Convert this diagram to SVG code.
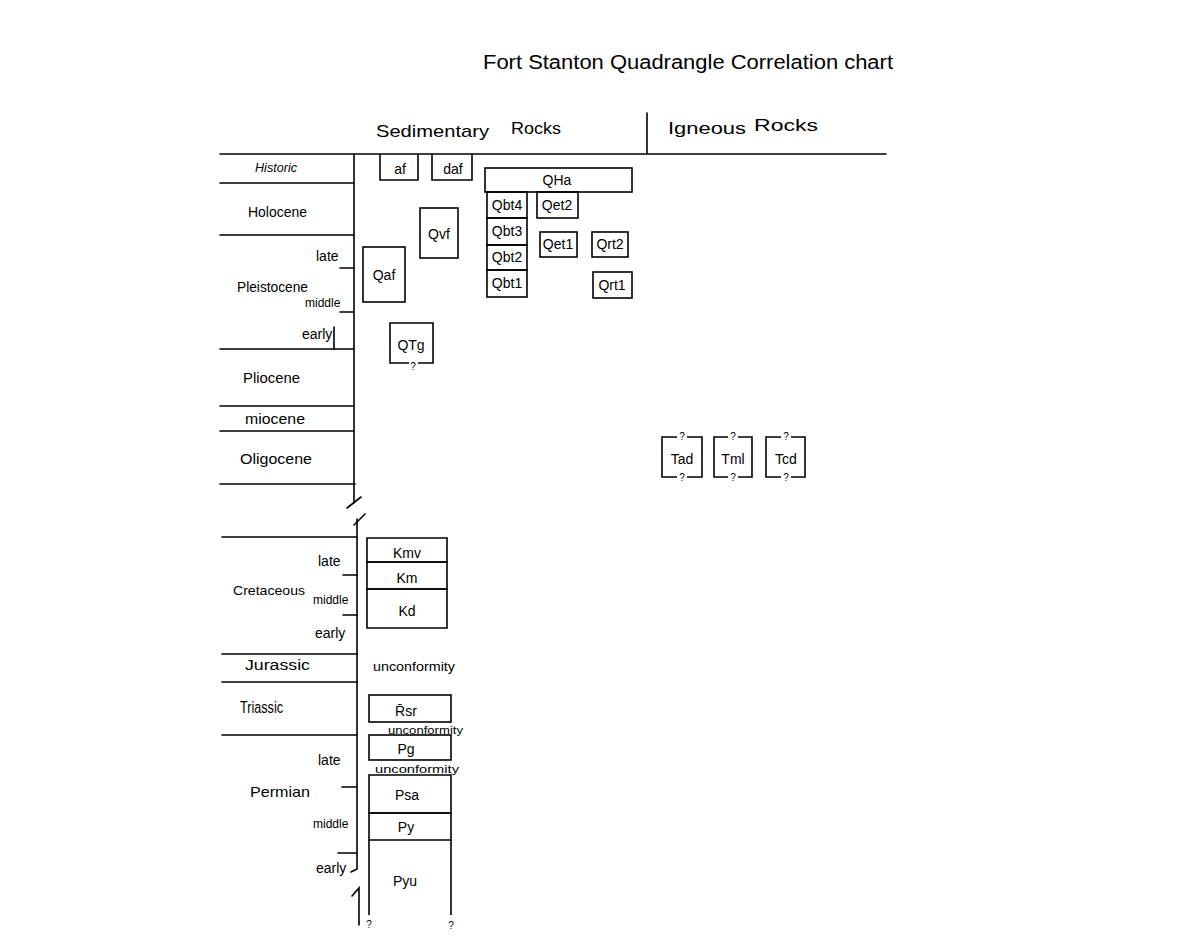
<svg xmlns="http://www.w3.org/2000/svg" width="1177" height="942" viewBox="0 0 1177 942">
<style>
  .ln { stroke: #000; stroke-width: 1.6; fill: none; stroke-linecap: round; }
  .bx { stroke: #000; stroke-width: 1.6; fill: none; }
  text { font-family: "Liberation Sans", "DejaVu Sans", sans-serif; fill: #000; }
  .t { font-size: 14px; }
  .s { font-size: 12px; }
  .b { font-size: 14px; text-anchor: middle; }
  .q { font-size: 10px; text-anchor: middle; }
</style>
<rect width="1177" height="942" fill="#fff"/>

<g id="title">
  <text x="483" y="69" font-size="20" textLength="410" lengthAdjust="spacingAndGlyphs">Fort Stanton Quadrangle Correlation chart</text>
</g>
<g id="headers">
  <text x="376" y="137" font-size="17" textLength="113" lengthAdjust="spacingAndGlyphs">Sedimentary</text>
  <text x="511" y="134" font-size="17" textLength="50" lengthAdjust="spacingAndGlyphs">Rocks</text>
  <text x="668" y="134" font-size="17" textLength="78" lengthAdjust="spacingAndGlyphs">Igneous</text>
  <text x="754" y="131" font-size="17" textLength="64" lengthAdjust="spacingAndGlyphs">Rocks</text>
</g>

<g id="connectors">
  <line class="ln" x1="647" y1="113" x2="647" y2="153"/>
  <line class="ln" x1="220" y1="154" x2="886" y2="154"/>
  <line class="ln" x1="220" y1="183" x2="354" y2="183"/>
  <line class="ln" x1="220" y1="235" x2="354" y2="235"/>
  <line class="ln" x1="220" y1="349" x2="354" y2="349"/>
  <line class="ln" x1="220" y1="406" x2="354" y2="406"/>
  <line class="ln" x1="220" y1="431" x2="354" y2="431"/>
  <line class="ln" x1="220" y1="484" x2="355" y2="484"/>
  <line class="ln" x1="222" y1="537" x2="357" y2="537"/>
  <line class="ln" x1="222" y1="654" x2="357" y2="654"/>
  <line class="ln" x1="222" y1="682" x2="357" y2="682"/>
  <line class="ln" x1="222" y1="735" x2="357" y2="735"/>
  <path class="ln" d="M354,154 V503"/>
  <path class="ln" d="M347,508 L361,497"/>
  <path class="ln" d="M354,525 L365,514"/>
  <path class="ln" d="M357,519 V869 L351,872"/>
  <path class="ln" d="M352,896 L359,888 V925"/>
  <line class="ln" x1="340" y1="268" x2="354" y2="268"/>
  <line class="ln" x1="340" y1="312" x2="354" y2="312"/>
  <line class="ln" x1="334" y1="327" x2="334" y2="349"/>
  <line class="ln" x1="343" y1="575" x2="357" y2="575"/>
  <line class="ln" x1="343" y1="615" x2="357" y2="615"/>
  <line class="ln" x1="342" y1="787" x2="357" y2="787"/>
  <line class="ln" x1="338" y1="853" x2="357" y2="853"/>
</g>

<g id="timescale-labels">
  <text x="255" y="172" font-size="12" font-style="italic" textLength="42" lengthAdjust="spacingAndGlyphs">Historic</text>
  <text x="248" y="217" font-size="15" textLength="59" lengthAdjust="spacingAndGlyphs">Holocene</text>
  <text x="316" y="261" class="t">late</text>
  <text x="237" y="292" class="t" textLength="71" lengthAdjust="spacingAndGlyphs">Pleistocene</text>
  <text x="305" y="307" class="s">middle</text>
  <text x="302" y="339" class="t">early</text>
  <text x="243" y="383" font-size="15" textLength="57" lengthAdjust="spacingAndGlyphs">Pliocene</text>
  <text x="245" y="424" class="t" textLength="60" lengthAdjust="spacingAndGlyphs">miocene</text>
  <text x="240" y="464" font-size="15" textLength="72" lengthAdjust="spacingAndGlyphs">Oligocene</text>
  <text x="318" y="566" class="t">late</text>
  <text x="233" y="595" font-size="13" textLength="72" lengthAdjust="spacingAndGlyphs">Cretaceous</text>
  <text x="313" y="604" class="s">middle</text>
  <text x="315" y="638" class="t">early</text>
  <text x="245" y="670" class="t" textLength="65" lengthAdjust="spacingAndGlyphs">Jurassic</text>
  <text x="240" y="713" font-size="16" textLength="43" lengthAdjust="spacingAndGlyphs">Triassic</text>
  <text x="318" y="765" class="t">late</text>
  <text x="250" y="797" font-size="15" textLength="60" lengthAdjust="spacingAndGlyphs">Permian</text>
  <text x="313" y="828" class="s">middle</text>
  <text x="316" y="873" class="t">early</text>
</g>

<g id="af"><path class="bx" d="M380,154 V180 H418 V154"/><text class="b" x="400" y="174" font-size="16">af</text></g>
<g id="daf"><path class="bx" d="M432,154 V180 H472 V154"/><text class="b" x="453" y="174" font-size="15">daf</text></g>
<g id="QHa"><rect class="bx" x="485" y="168" width="147" height="24"/><text class="b" x="557" y="185">QHa</text></g>
<g id="Qbt4"><rect class="bx" x="487" y="192" width="40" height="26"/><text class="b" x="507" y="210" font-size="12">Qbt4</text></g>
<g id="Qbt3"><rect class="bx" x="487" y="218" width="40" height="27"/><text class="b" x="507" y="236" font-size="12">Qbt3</text></g>
<g id="Qbt2"><rect class="bx" x="487" y="245" width="40" height="25"/><text class="b" x="507" y="262" font-size="12">Qbt2</text></g>
<g id="Qbt1"><rect class="bx" x="487" y="270" width="40" height="27"/><text class="b" x="507" y="288" font-size="12">Qbt1</text></g>
<g id="Qet2"><rect class="bx" x="537" y="192" width="41" height="26"/><text class="b" x="557" y="210">Qet2</text></g>
<g id="Qet1"><rect class="bx" x="540" y="232" width="37" height="25"/><text class="b" x="558" y="249" font-size="13">Qet1</text></g>
<g id="Qrt2"><rect class="bx" x="592" y="232" width="36" height="25"/><text class="b" x="610" y="249" font-size="13">Qrt2</text></g>
<g id="Qrt1"><rect class="bx" x="593" y="272" width="39" height="26"/><text class="b" x="612" y="290" font-size="13">Qrt1</text></g>
<g id="Qvf"><rect class="bx" x="420" y="208" width="38" height="50"/><text class="b" x="439" y="239" font-size="16">Qvf</text></g>
<g id="Qaf"><rect class="bx" x="363" y="247" width="42" height="55"/><text class="b" x="384" y="280" font-size="16">Qaf</text></g>
<g id="QTg"><path class="bx" d="M409,363 H390 V323 H433 V363 H418"/><text class="b" x="411" y="350" font-size="15">QTg</text><text class="q" x="413" y="370">?</text></g>

<g id="Tad"><path class="bx" d="M677,437 H662 V477 H677 M687,437 H702 V477 H687"/><text class="q" x="682" y="440">?</text><text class="b" x="682" y="464" font-size="16">Tad</text><text class="q" x="682" y="481">?</text></g>
<g id="Tml"><path class="bx" d="M728,437 H714 V477 H728 M738,437 H752 V477 H738"/><text class="q" x="733" y="440">?</text><text class="b" x="733" y="464" font-size="16">Tml</text><text class="q" x="733" y="481">?</text></g>
<g id="Tcd"><path class="bx" d="M781,437 H766 V477 H781 M791,437 H805 V477 H791"/><text class="q" x="786" y="440">?</text><text class="b" x="786" y="464" font-size="16">Tcd</text><text class="q" x="786" y="481">?</text></g>

<g id="Kmv"><path class="bx" d="M367,562 V538 H447 V562 Z"/><text class="b" x="407" y="558" font-size="17">Kmv</text></g>
<g id="Km"><path class="bx" d="M367,589 V562 H447 V589 Z"/><text class="b" x="407" y="583" font-size="17">Km</text></g>
<g id="Kd"><path class="bx" d="M367,628 V589 H447 V628 Z"/><text class="b" x="407" y="616" font-size="18">Kd</text></g>
<g id="unconformity-1"><text x="373" y="671" class="s" textLength="82" lengthAdjust="spacingAndGlyphs">unconformity</text></g>

<g id="Rsr"><rect class="bx" x="369" y="695" width="82" height="27"/><text class="b" x="406" y="716" font-size="17">R̄sr</text></g>
<g id="unconformity-2"><text x="388" y="734" font-size="11" textLength="75" lengthAdjust="spacingAndGlyphs">unconformity</text></g>
<g id="Pg"><rect class="bx" x="369" y="735" width="82" height="25"/><text class="b" x="406" y="754" font-size="16">Pg</text></g>
<g id="unconformity-3"><text x="375" y="773" font-size="11" textLength="84" lengthAdjust="spacingAndGlyphs">unconformity</text></g>
<g id="Psa"><path class="bx" d="M369,813 V775 H451 V813 Z"/><text class="b" x="407" y="800" font-size="13">Psa</text></g>
<g id="Py"><path class="bx" d="M369,840 V813 H451 V840 Z"/><text class="b" x="406" y="832" font-size="15">Py</text></g>
<g id="Pyu"><path class="bx" d="M369,915 V840 M451,840 V915"/><text class="b" x="405" y="886" font-size="17">Pyu</text><text class="q" x="369" y="928">?</text><text class="q" x="451" y="929">?</text></g>
</svg>
